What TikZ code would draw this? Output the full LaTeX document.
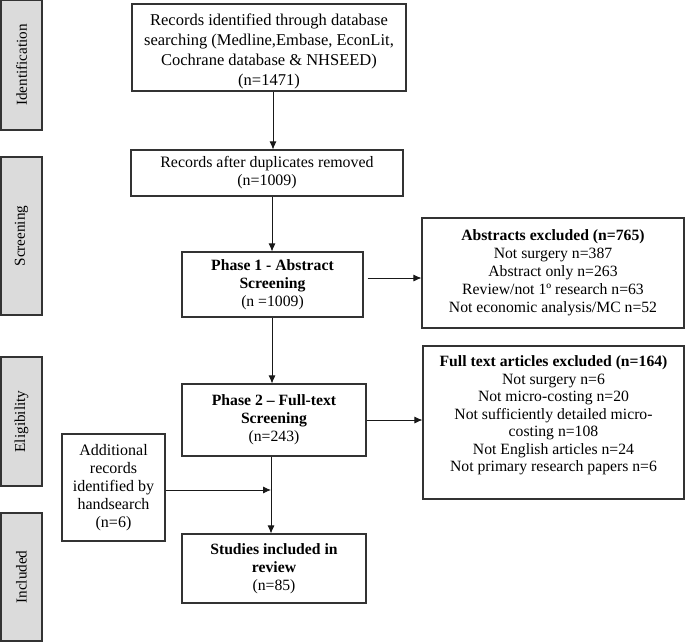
\documentclass[tikz,border=0pt]{standalone}
\usepackage{fontspec}
\setmainfont{Liberation Serif}
\usetikzlibrary{arrows.meta}
\begin{document}
\begin{tikzpicture}[x=1pt,y=-1pt,
  box/.style={draw=black!80, line width=1.1pt, fill=white, align=center, inner sep=0pt,
    font=\fontsize{15.7}{18}\selectfont},
  txt/.style={align=center, inner sep=0pt},
  bar/.style={draw=black!80, line width=1.2pt, fill=gray!28, inner sep=0pt},
  bartext/.style={rotate=90, font=\fontsize{15.2}{18}\selectfont},
  arr/.style={line width=0.8pt, draw=black!90, -{Latex[length=8pt,width=7pt]}}]
\useasboundingbox (0,0) rectangle (685,643);
% stage bars
\node[bar, minimum width=41, minimum height=130] (bid) at (21.5,65) {};
\node[bartext] (tid) at (bid.center) {Identification};
\node[bar, minimum width=41, minimum height=158] (bsc) at (21.5,236) {};
\node[bartext] (tsc) at (bsc.center) {Screening};
\node[bar, minimum width=41, minimum height=129] (bel) at (21.5,421.5) {};
\node[bartext] (tel) at (bel.center) {Eligibility};
\node[bar, minimum width=41, minimum height=128] (bin) at (21.5,577) {};
\node[bartext] (tin) at (bin.center) {Included};
% boxes
\node[box, minimum width=274, minimum height=87] (rec) at (269,47.5) {};
\node[txt, font=\fontsize{16.5}{20}\selectfont] (rectxt) at (269,51.5)
  {Records identified through database\\searching (Medline,Embase, EconLit,\\Cochrane database \& NHSEED)\\(n=1471)};
\node[box, minimum width=272, minimum height=46, font=\fontsize{15.9}{18}\selectfont] (dup) at (267,173)
  {Records after duplicates removed\\(n=1009)};
\node[box, minimum width=181, minimum height=65] (p1) at (272.5,284.5)
  {\textbf{Phase 1 - Abstract}\\\textbf{Screening}\\(n =1009)};
\node[box, minimum width=262, minimum height=110] (abs) at (553,273)
  {\textbf{Abstracts excluded (n=765)}\\Not surgery n=387\\Abstract only n=263\\Review/not 1º research n=63\\Not economic analysis/MC n=52};
\node[box, minimum width=184, minimum height=72] (p2) at (274,420)
  {\textbf{Phase 2 – Full-text}\\\textbf{Screening}\\(n=243)};
\node[box, minimum width=261, minimum height=153] (full) at (553.5,422.5) {};
\node[txt, font=\fontsize{15.7}{17.5}\selectfont] (fulltxt) at (553.5,415.5)
  {\textbf{Full text articles excluded (n=164)}\\Not surgery n=6\\Not micro-costing n=20\\Not sufficiently detailed micro-\\costing n=108\\Not English articles n=24\\Not primary research papers n=6};
\node[box, minimum width=103, minimum height=107, font=\fontsize{16}{18}\selectfont] (add) at (113.5,487.5)
  {Additional\\records\\identified by\\handsearch\\(n=6)};
\node[box, minimum width=184, minimum height=69] (inc) at (274,568.5)
  {\textbf{Studies included in}\\\textbf{review}\\(n=85)};
% connectors
\coordinate (c1) at (273,0);
\coordinate (c2) at (272,0);
\coordinate (c3) at (271,0);
\coordinate (ya) at (0,278);
\coordinate (yb) at (0,490);
\coordinate (j) at (271,490);
\draw[arr] (rec.south -| c1) -- (dup.north -| c1);
\draw[arr] (dup.south -| c2) -- (p1.north -| c2);
\draw[arr] (p1.south -| c2) -- (p2.north -| c2);
\draw[arr] ([xshift=4pt]p1.east |- ya) -- (abs.west |- ya);
\draw[arr] (p2.east) -- (full.west |- p2.east);
\draw[arr] (p2.south -| c3) -- (inc.north -| c3);
\draw[arr] (add.east |- yb) -- (j);
\end{tikzpicture}
\end{document}
